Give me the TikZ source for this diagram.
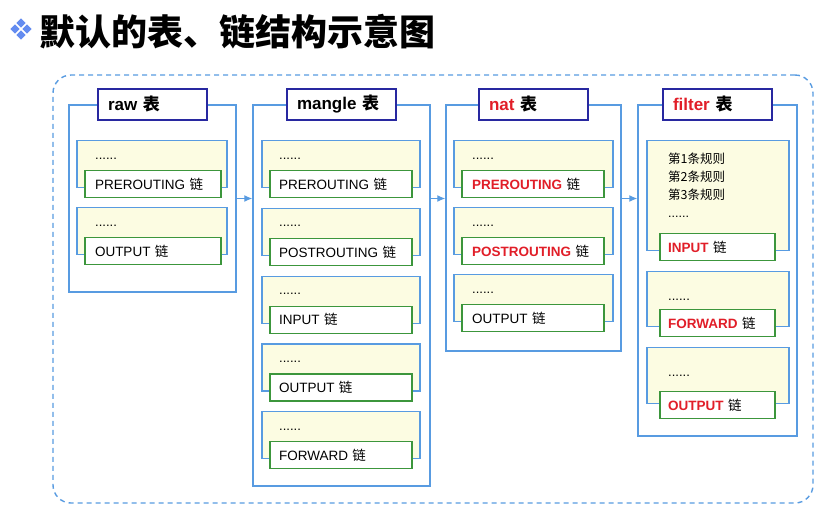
\documentclass[tikz,border=0pt]{standalone}
\usepackage{fontspec}
\setmainfont{Liberation Sans}
\newfontfamily\cjk{Noto Sans CJK SC}
\usetikzlibrary{arrows.meta}
\definecolor{tblue}{RGB}{88,155,225}
\definecolor{navy}{RGB}{40,40,160}
\definecolor{ngreen}{RGB}{60,150,60}
\definecolor{cream}{RGB}{252,252,226}
\definecolor{nred}{RGB}{225,30,40}
\definecolor{icon}{RGB}{100,140,240}
\newcommand\lian{{\cjk 链}}
\newcommand\biao{{\cjk 表}}
\newcommand\hot[1]{\textcolor{nred}{\bfseries #1}}
\tikzset{
    frame/.style={draw=tblue, line width=1.4pt, dash pattern=on 5pt off 4pt, rounded corners=18pt},
    tbl/.style={draw=tblue, line width=1.4pt, fill=white},
    tbltitle/.style={draw=navy, line width=1.4pt, fill=white, minimum height=31pt,
        inner xsep=10pt, inner ysep=0pt, text width=89pt, align=left,
        font=\bfseries\fontsize{17}{20}\selectfont},
    grp/.style={draw=tblue, line width=1.3pt, fill=cream, anchor=north, minimum height=47pt},
    chain/.style={draw=ngreen, line width=1.3pt, fill=white, anchor=north, minimum height=27pt,
        inner ysep=0pt, align=left, font=\fontsize{13.5}{15}\selectfont},
    dots/.style={anchor=base west, inner sep=0pt, font=\fontsize{13}{14}\selectfont},
    flow/.style={draw=tblue, line width=1.2pt, -{Latex[length=8pt,width=7pt]}}
}
\begin{document}
\begin{tikzpicture}[x=1pt,y=-1pt]
    \useasboundingbox (0,0) rectangle (820,517);
    % heading
    \foreach \p in {(21,23),(15,29),(27,29),(21,35)}
        \fill[icon] \p ++(0,-4.6) -- ++(4.6,4.6) -- ++(-4.6,4.6) -- ++(-4.6,-4.6) -- cycle;
    \node[anchor=west, inner sep=0pt, font=\cjk\bfseries\fontsize{36}{40}\selectfont] (title) at (39,32) {默认的表、链结构示意图};
    \node[frame, minimum width=760pt, minimum height=428pt] (all) at (433,289) {};

    % raw table
    \node[tbl, minimum width=167pt, minimum height=187pt] (raw) at (152.5,198.5) {};
    \node[tbltitle] (rawT) at (raw.north) {raw \biao};
    \node[grp, minimum width=150pt] (rawG1) at (152,140) {};
    \node[grp, minimum width=150pt] (rawG2) at (152,207) {};
    \node[dots] at (95,159) {......};
    \node[dots] at (95,226) {......};
    \node[chain, text width=116pt, inner xsep=10pt] (rawPre) at (153,170) {PREROUTING \lian};
    \node[chain, text width=116pt, inner xsep=10pt] (rawOut) at (153,237) {OUTPUT \lian};

    % mangle table
    \node[tbl, minimum width=177pt, minimum height=381pt] (mangle) at (341.5,295.5) {};
    \node[tbltitle] (mangleT) at (mangle.north) {mangle \biao};
    \node[grp, minimum width=158pt] (mangleG1) at (341,140) {};
    \node[grp, minimum width=158pt] (mangleG2) at (341,207.75) {};
    \node[grp, minimum width=158pt] (mangleG3) at (341,275.5) {};
    \node[grp, minimum width=158pt] (mangleG4) at (341,343.25) {};
    \node[grp, minimum width=158pt] (mangleG5) at (341,411) {};
    \node[dots] at (279,159) {......};
    \node[dots] at (279,226.75) {......};
    \node[dots] at (279,294.5) {......};
    \node[dots] at (279,362.25) {......};
    \node[dots] at (279,430) {......};
    \node[chain, text width=124pt, inner xsep=9pt] (manglePre) at (341,170) {PREROUTING \lian};
    \node[chain, text width=124pt, inner xsep=9pt] (manglePost) at (341,237.75) {POSTROUTING \lian};
    \node[chain, text width=124pt, inner xsep=9pt] (mangleIn) at (341,305.5) {INPUT \lian};
    \node[chain, text width=124pt, inner xsep=9pt] (mangleOut) at (341,373.25) {OUTPUT \lian};
    \node[chain, text width=124pt, inner xsep=9pt] (mangleFwd) at (341,441) {FORWARD \lian};

    % nat table
    \node[tbl, minimum width=175pt, minimum height=246pt] (nat) at (533.5,228) {};
    \node[tbltitle] (natT) at (nat.north) {\textcolor{nred}{nat} \biao};
    \node[grp, minimum width=159pt] (natG1) at (533.5,140) {};
    \node[grp, minimum width=159pt] (natG2) at (533.5,207) {};
    \node[grp, minimum width=159pt] (natG3) at (533.5,274) {};
    \node[dots] at (472,159) {......};
    \node[dots] at (472,226) {......};
    \node[dots] at (472,293) {......};
    \node[chain, text width=122pt, inner xsep=10pt] (natPre) at (533,170) {\hot{PREROUTING} \lian};
    \node[chain, text width=122pt, inner xsep=10pt] (natPost) at (533,237) {\hot{POSTROUTING} \lian};
    \node[chain, text width=122pt, inner xsep=10pt] (natOut) at (533,304) {OUTPUT \lian};

    % filter table
    \node[tbl, minimum width=159pt, minimum height=331pt] (filter) at (717.5,270.5) {};
    \node[tbltitle] (filterT) at (filter.north) {\textcolor{nred}{filter} \biao};
    \node[grp, minimum width=142pt, minimum height=110pt] (filterG1) at (718,140) {};
    \node[grp, minimum width=142pt, minimum height=55pt] (filterG2) at (718,271) {};
    \node[grp, minimum width=142pt, minimum height=56pt] (filterG3) at (718,347) {};
    \node[anchor=north west, inner sep=0pt, align=left, font=\cjk\fontsize{12.5}{18}\selectfont] (rules) at (668,153)
        {第1条规则\\第2条规则\\第3条规则\\{\rmfamily ......}};
    \node[dots] at (668,300) {......};
    \node[dots] at (668,376) {......};
    \node[chain, text width=99pt, inner xsep=8pt] (filterIn) at (717.5,233) {\hot{INPUT} \lian};
    \node[chain, text width=99pt, inner xsep=8pt] (filterFwd) at (717.5,309) {\hot{FORWARD} \lian};
    \node[chain, text width=99pt, inner xsep=8pt] (filterOut) at (717.5,391) {\hot{OUTPUT} \lian};

    % order of the tables
    \draw[flow] (raw.east) -- (raw.east -| mangle.west);
    \draw[flow] (raw.east -| mangle.east) -- (raw.east -| nat.west);
    \draw[flow] (raw.east -| nat.east) -- (raw.east -| filter.west);
\end{tikzpicture}
\end{document}
